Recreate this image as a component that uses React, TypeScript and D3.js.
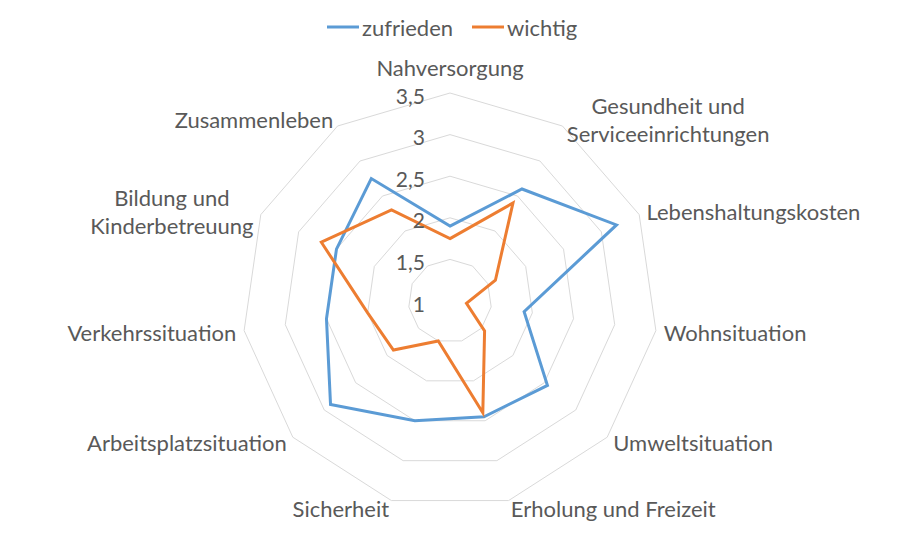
import React, {useEffect, useRef} from 'react';
import * as d3 from "d3";

const categories = [
    "Nahversorgung",
    "Gesundheit und\nServiceeinrichtungen",
    "Lebenshaltungskosten",
    "Wohnsituation",
    "Umweltsituation",
    "Erholung und Freizeit",
    "Sicherheit",
    "Arbeitsplatzsituation",
    "Verkehrssituation",
    "Bildung und\nKinderbetreuung",
    "Zusammenleben"
];
const zufrieden = [1.9, 2.6, 3.2, 1.9, 2.55, 2.45, 2.5, 2.9, 2.5, 2.5, 2.75];
const wichtig = [1.75, 2.4, 1.6, 1.2, 1.55, 2.4, 1.5, 1.9, 2.0, 2.7, 2.3];
const ticks = [1, 1.5, 2, 2.5, 3, 3.5];
const seriesNames = ["zufrieden", "wichtig"];
const colors = ["#5b9bd5", "#ed7d31"];

const FONT = "Lato, 'Open Sans', sans-serif";

function App() {
    const ref = useRef<SVGSVGElement>(null);

    useEffect(() => {
        const width = 900, height = 554;
        const cx = 450, cy = 301, R = 208;
        const svg = d3.select(ref.current);
        svg.selectAll("*").remove();

        svg.append("rect")
            .attr("width", width)
            .attr("height", height)
            .attr("fill", "white");

        const n = categories.length;
        const angle = (i: number) => i * 2 * Math.PI / n;
        const rScale = d3.scaleLinear().domain([1, 3.5]).range([0, R]);

        const g = svg.append("g").attr("transform", `translate(${cx},${cy})`);

        //grid polygons
        const gridLine = d3.lineRadial<number>()
            .angle((d, i) => angle(i))
            .radius(d => rScale(d))
            .curve(d3.curveLinearClosed);

        ticks.slice(1).forEach(t => {
            g.append("path")
                .attr("d", gridLine(categories.map(() => t)))
                .attr("fill", "none")
                .attr("stroke", "#d9d9d9")
                .attr("stroke-width", 1);
        });

        //series
        [zufrieden, wichtig].forEach((vals, k) => {
            g.append("path")
                .attr("d", gridLine(vals))
                .attr("fill", "none")
                .attr("stroke", colors[k])
                .attr("stroke-width", 3)
                .attr("stroke-linejoin", "miter");
        });

        //tick labels
        ticks.forEach(t => {
            g.append("text")
                .attr("x", -25)
                .attr("y", -rScale(t) + 2)
                .attr("text-anchor", "end")
                .attr("dominant-baseline", "central")
                .attr("font-family", FONT)
                .attr("font-size", 21)
                .attr("fill", "#595959")
                .text(String(t).replace(".", ","));
        });

        //category labels
        const lineH = 28;
        categories.forEach((c, i) => {
            const a = angle(i);
            const s = Math.sin(a), co = Math.cos(a);
            const x = (R + 8) * s;
            let y = -(R + 8) * co;
            const lines = c.split("\n");
            const blockH = lines.length * lineH;
            let anchor = "middle";
            if (s > 0.05) anchor = "start";
            if (s < -0.05) anchor = "end";
            if (anchor === "middle") y = y - co * (blockH / 2 + 4);
            const text = g.append("text")
                .attr("font-family", FONT)
                .attr("font-size", 22)
                .attr("fill", "#595959")
                .attr("dominant-baseline", "central");
            lines.forEach((l, j) => {
                text.append("tspan")
                    .attr("x", x)
                    .attr("y", y - blockH / 2 + lineH / 2 + j * lineH)
                    .attr("text-anchor", anchor)
                    .text(l);
            });
            //centre the lines of a multi-line block
            if (lines.length > 1) {
                const widths: number[] = [];
                text.selectAll("tspan").each(function () {
                    widths.push((this as SVGTSpanElement).getComputedTextLength());
                });
                const maxW = d3.max(widths) as number;
                const left = anchor === "start" ? x : anchor === "end" ? x - maxW : x - maxW / 2;
                text.selectAll("tspan")
                    .attr("text-anchor", "middle")
                    .attr("x", left + maxW / 2);
            }
        });

        //legend
        const legend = svg.append("g").attr("transform", "translate(327,27)");
        const offsets = [0, 145];
        seriesNames.forEach((name, k) => {
            const lg = legend.append("g").attr("transform", `translate(${offsets[k]},0)`);
            lg.append("line")
                .attr("x1", 0).attr("x2", 32)
                .attr("y1", 0).attr("y2", 0)
                .attr("stroke", colors[k])
                .attr("stroke-width", 3);
            lg.append("text")
                .attr("x", 35)
                .attr("y", 0)
                .attr("dominant-baseline", "central")
                .attr("font-family", FONT)
                .attr("font-size", 22)
                .attr("fill", "#595959")
                .text(name);
        });
    }, []);

    return (
        <svg ref={ref} width={900} height={554}
             style={{position: "absolute", left: 0, top: 0, display: "block"}}/>
    );
}

export default App;
